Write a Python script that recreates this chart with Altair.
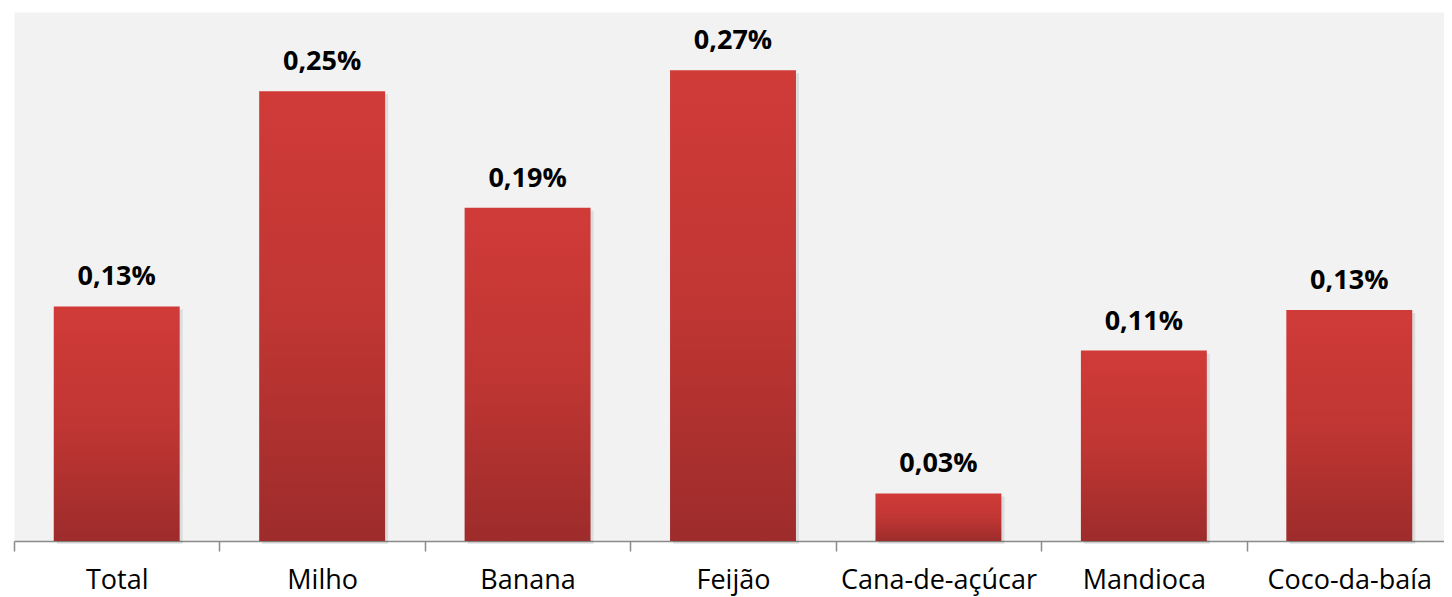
import altair as alt
import pandas as pd

categories = ["Total", "Milho", "Banana", "Feijão", "Cana-de-açúcar", "Mandioca", "Coco-da-baía"]
values = [0.133, 0.255, 0.189, 0.267, 0.027, 0.108, 0.131]
labels = ["0,13%", "0,25%", "0,19%", "0,27%", "0,03%", "0,11%", "0,13%"]

df = pd.DataFrame({"cat": categories, "val": values, "lab": labels})

x_enc = alt.X(
    "cat:N",
    sort=categories,
    title=None,
    scale=alt.Scale(paddingInner=0, paddingOuter=0, range=[0, 1438]),
    axis=alt.Axis(
        labelAngle=0,
        tickBand="extent",
        tickSize=10,
        tickColor="#8a8a8a",
        tickWidth=1.5,
        domainColor="#8a8a8a",
        domainWidth=1.5,
        labelFont="Open Sans",
        labelFontSize=27,
        labelColor="#000000",
        labelBaseline="alphabetic",
        labelPadding=37,
        labelLimit=0,
    ),
)
y_enc = alt.Y("val:Q", scale=alt.Scale(domain=[0, 0.3]), axis=None)

bar_w = alt.RelativeBandSize(0.613)

shadow = alt.Chart().mark_bar(
    color="#000000", opacity=0.09, xOffset=3, yOffset=3, width=bar_w
).encode(x=x_enc, y=y_enc)

bars = alt.Chart().mark_bar(
    width=bar_w,
    color=alt.Gradient(
        gradient="linear",
        x1=0, x2=0, y1=0, y2=1,
        stops=[
            alt.GradientStop(color="#d03b38", offset=0),
            alt.GradientStop(color="#c03633", offset=0.5),
            alt.GradientStop(color="#9d2c2b", offset=1),
        ],
    ),
).encode(x=x_enc, y=y_enc)

text = alt.Chart().mark_text(
    font="Open Sans",
    fontSize=27,
    fontWeight="bold",
    color="#000000",
    baseline="alphabetic",
    dy=-21,
).encode(x=x_enc, y=y_enc, text="lab:N")

chart = (
    alt.layer(shadow, bars, text, data=df)
    .properties(
        width=1430,
        height=529,
        padding={"left": 6, "top": 4, "right": 0, "bottom": 56},
        autosize=alt.AutoSizeParams(type="none"),
        background="#ffffff",
    )
    .configure_view(fill="#f2f2f2", strokeOpacity=0)
)

chart.save("out.html", embed_options={"renderer": "svg", "actions": False})
